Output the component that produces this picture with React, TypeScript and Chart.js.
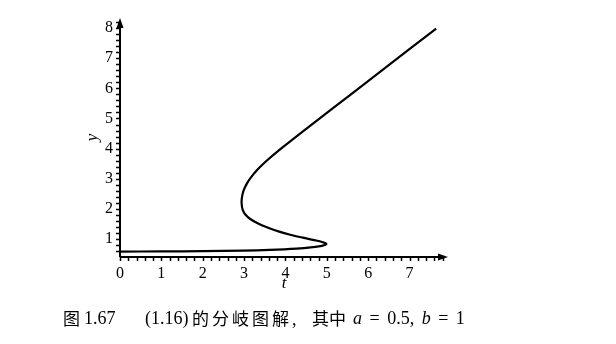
import React, { useEffect, useRef } from "react";
import { Chart, registerables } from "chart.js";
Chart.register(...registerables);

// bifurcation curve (t horizontal, y vertical), ordered along the curve
const tValues = [0.0, 1.0, 2.0, 2.97, 3.62, 4.27, 4.67, 4.88, 4.99, 4.9, 4.7, 4.42, 4.14, 3.85, 3.58, 3.34, 3.15, 3.03, 2.965, 2.94, 2.95, 2.985, 3.05, 3.14, 3.32, 3.545, 3.855, 4.168, 4.478, 5.102, 6.255, 7.644];
const yValues = [0.59, 0.595, 0.605, 0.62, 0.645, 0.69, 0.74, 0.78, 0.84, 0.9, 0.97, 1.05, 1.14, 1.25, 1.38, 1.52, 1.67, 1.82, 1.98, 2.2, 2.4, 2.6, 2.8, 3.0, 3.3, 3.6, 3.96, 4.3, 4.63, 5.29, 6.51, 7.98];
const xTickLabels = [0, 1, 2, 3, 4, 5, 6, 7];
const yTickLabels = [1, 2, 3, 4, 5, 6, 7, 8];
const xMinorTicks = [0, 0.2, 0.4, 0.6, 0.8, 1, 1.2, 1.4, 1.6, 1.8, 2, 2.2, 2.4, 2.6, 2.8, 3, 3.2, 3.4, 3.6, 3.8, 4, 4.2, 4.4, 4.6, 4.8, 5, 5.2, 5.4, 5.6, 5.8, 6, 6.2, 6.4, 6.6, 6.8, 7, 7.2, 7.4, 7.6, 7.8];
const yMinorTicks = [0.6, 0.8, 1, 1.2, 1.4, 1.6, 1.8, 2, 2.2, 2.4, 2.6, 2.8, 3, 3.2, 3.4, 3.6, 3.8, 4, 4.2, 4.4, 4.6, 4.8, 5, 5.2, 5.4, 5.6, 5.8, 6, 6.2, 6.4, 6.6, 6.8, 7, 7.2, 7.4, 7.6, 7.8, 8, 8.2];
const xRange = [0, 7.93];
const yRange = [0.41, 8.33];

const SERIF = "'Liberation Serif', 'Times New Roman', serif";
const CJK = "'Noto Sans CJK SC', sans-serif";

const axisDecor = {
  id: "axisDecor",
  afterDraw(chart: any) {
    const { ctx, chartArea, scales } = chart;
    const x = scales.x;
    const y = scales.y;
    const left = chartArea.left;
    const bottom = chartArea.bottom;
    ctx.save();
    ctx.strokeStyle = "#000";
    ctx.fillStyle = "#000";
    ctx.lineWidth = 2;
    ctx.beginPath();
    ctx.moveTo(left, bottom);
    ctx.lineTo(chartArea.right - 6, bottom);
    ctx.moveTo(left, bottom);
    ctx.lineTo(left, chartArea.top + 6);
    ctx.stroke();
    ctx.lineWidth = 1.5;
    ctx.beginPath();
    xMinorTicks.forEach((v) => {
      const px = Math.round(x.getPixelForValue(v)) + 0.5;
      ctx.moveTo(px, bottom);
      ctx.lineTo(px, bottom + 4);
    });
    yMinorTicks.forEach((v) => {
      const py = Math.round(y.getPixelForValue(v)) + 0.5;
      ctx.moveTo(left, py);
      ctx.lineTo(left - 4, py);
    });
    ctx.stroke();
    ctx.beginPath();
    ctx.moveTo(chartArea.right, bottom);
    ctx.lineTo(chartArea.right - 10, bottom - 3.5);
    ctx.lineTo(chartArea.right - 10, bottom + 3.5);
    ctx.closePath();
    ctx.fill();
    ctx.beginPath();
    ctx.moveTo(left, chartArea.top);
    ctx.lineTo(left - 3.5, chartArea.top + 10);
    ctx.lineTo(left + 3.5, chartArea.top + 10);
    ctx.closePath();
    ctx.fill();
    ctx.restore();
  },
};

const capBase: React.CSSProperties = {
  position: "absolute",
  top: 307,
  lineHeight: "22px",
  whiteSpace: "pre",
  color: "#000",
};

export default function App() {
  const canvasRef = useRef<HTMLCanvasElement | null>(null);
  useEffect(() => {
    document.body.style.margin = "0";
    const canvas = canvasRef.current;
    if (!canvas) return;
    const points = tValues.map((t, i) => ({ x: t, y: yValues[i] }));
    const chart = new Chart(canvas, {
      type: "scatter",
      data: {
        datasets: [
          {
            data: points,
            showLine: true,
            borderColor: "#000",
            borderWidth: 2.2,
            pointRadius: 0,
            tension: 0.4,
            fill: false,
          },
        ],
      },
      options: {
        animation: false,
        responsive: false,
        layout: { padding: { left: 82, right: 168, top: 18, bottom: 50 } },
        plugins: { legend: { display: false }, tooltip: { enabled: false } },
        scales: {
          x: {
            type: "linear",
            min: xRange[0],
            max: xRange[1],
            afterBuildTicks: (s: any) => {
              s.ticks = xTickLabels.map((v) => ({ value: v }));
            },
            afterFit: (s: any) => {
              s.height = 37;
            },
            ticks: {
              autoSkip: false,
              maxRotation: 0,
              padding: 7,
              color: "#000",
              font: { family: SERIF, size: 16 },
              callback: (v: any) => String(v),
            },
            grid: { display: false, drawTicks: false },
            border: { display: false },
            title: {
              display: true,
              text: "t",
              color: "#000",
              padding: 0,
              font: { family: SERIF, size: 17, style: "italic" },
            },
          },
          y: {
            type: "linear",
            min: yRange[0],
            max: yRange[1],
            afterBuildTicks: (s: any) => {
              s.ticks = yTickLabels.map((v) => ({ value: v }));
            },
            afterFit: (s: any) => {
              s.width = 38;
            },
            ticks: {
              autoSkip: false,
              padding: 7,
              color: "#000",
              font: { family: SERIF, size: 16 },
              callback: (v: any) => String(v),
            },
            grid: { display: false, drawTicks: false },
            border: { display: false },
            title: {
              display: true,
              text: "y",
              color: "#000",
              padding: 0,
              font: { family: SERIF, size: 17, style: "italic" },
            },
          },
        },
      },
      plugins: [axisDecor],
    });
    return () => chart.destroy();
  }, []);

  return (
    <div style={{ position: "relative", width: 616, height: 344, background: "#fff" }}>
      <canvas ref={canvasRef} width={616} height={344} style={{ display: "block" }} />
      <span style={{ ...capBase, left: 63, fontFamily: CJK, fontSize: 17 }}>图</span>
      <span style={{ ...capBase, left: 84, fontFamily: SERIF, fontSize: 18 }}>1.67</span>
      <span style={{ ...capBase, left: 145, fontFamily: SERIF, fontSize: 18 }}>(1.16)</span>
      <span style={{ ...capBase, left: 192, fontFamily: CJK, fontSize: 17, letterSpacing: 3 }}>
        的分岐图解<span style={{ fontFamily: SERIF, fontSize: 18, letterSpacing: 0 }}>,</span>
      </span>
      <span style={{ ...capBase, left: 312, fontFamily: CJK, fontSize: 17 }}>其中</span>
      <span style={{ ...capBase, left: 353, fontFamily: SERIF, fontSize: 18, wordSpacing: 3 }}>
        <i>a</i>
        {" = 0.5, "}
        <i>b</i>
        {" = 1"}
      </span>
    </div>
  );
}
